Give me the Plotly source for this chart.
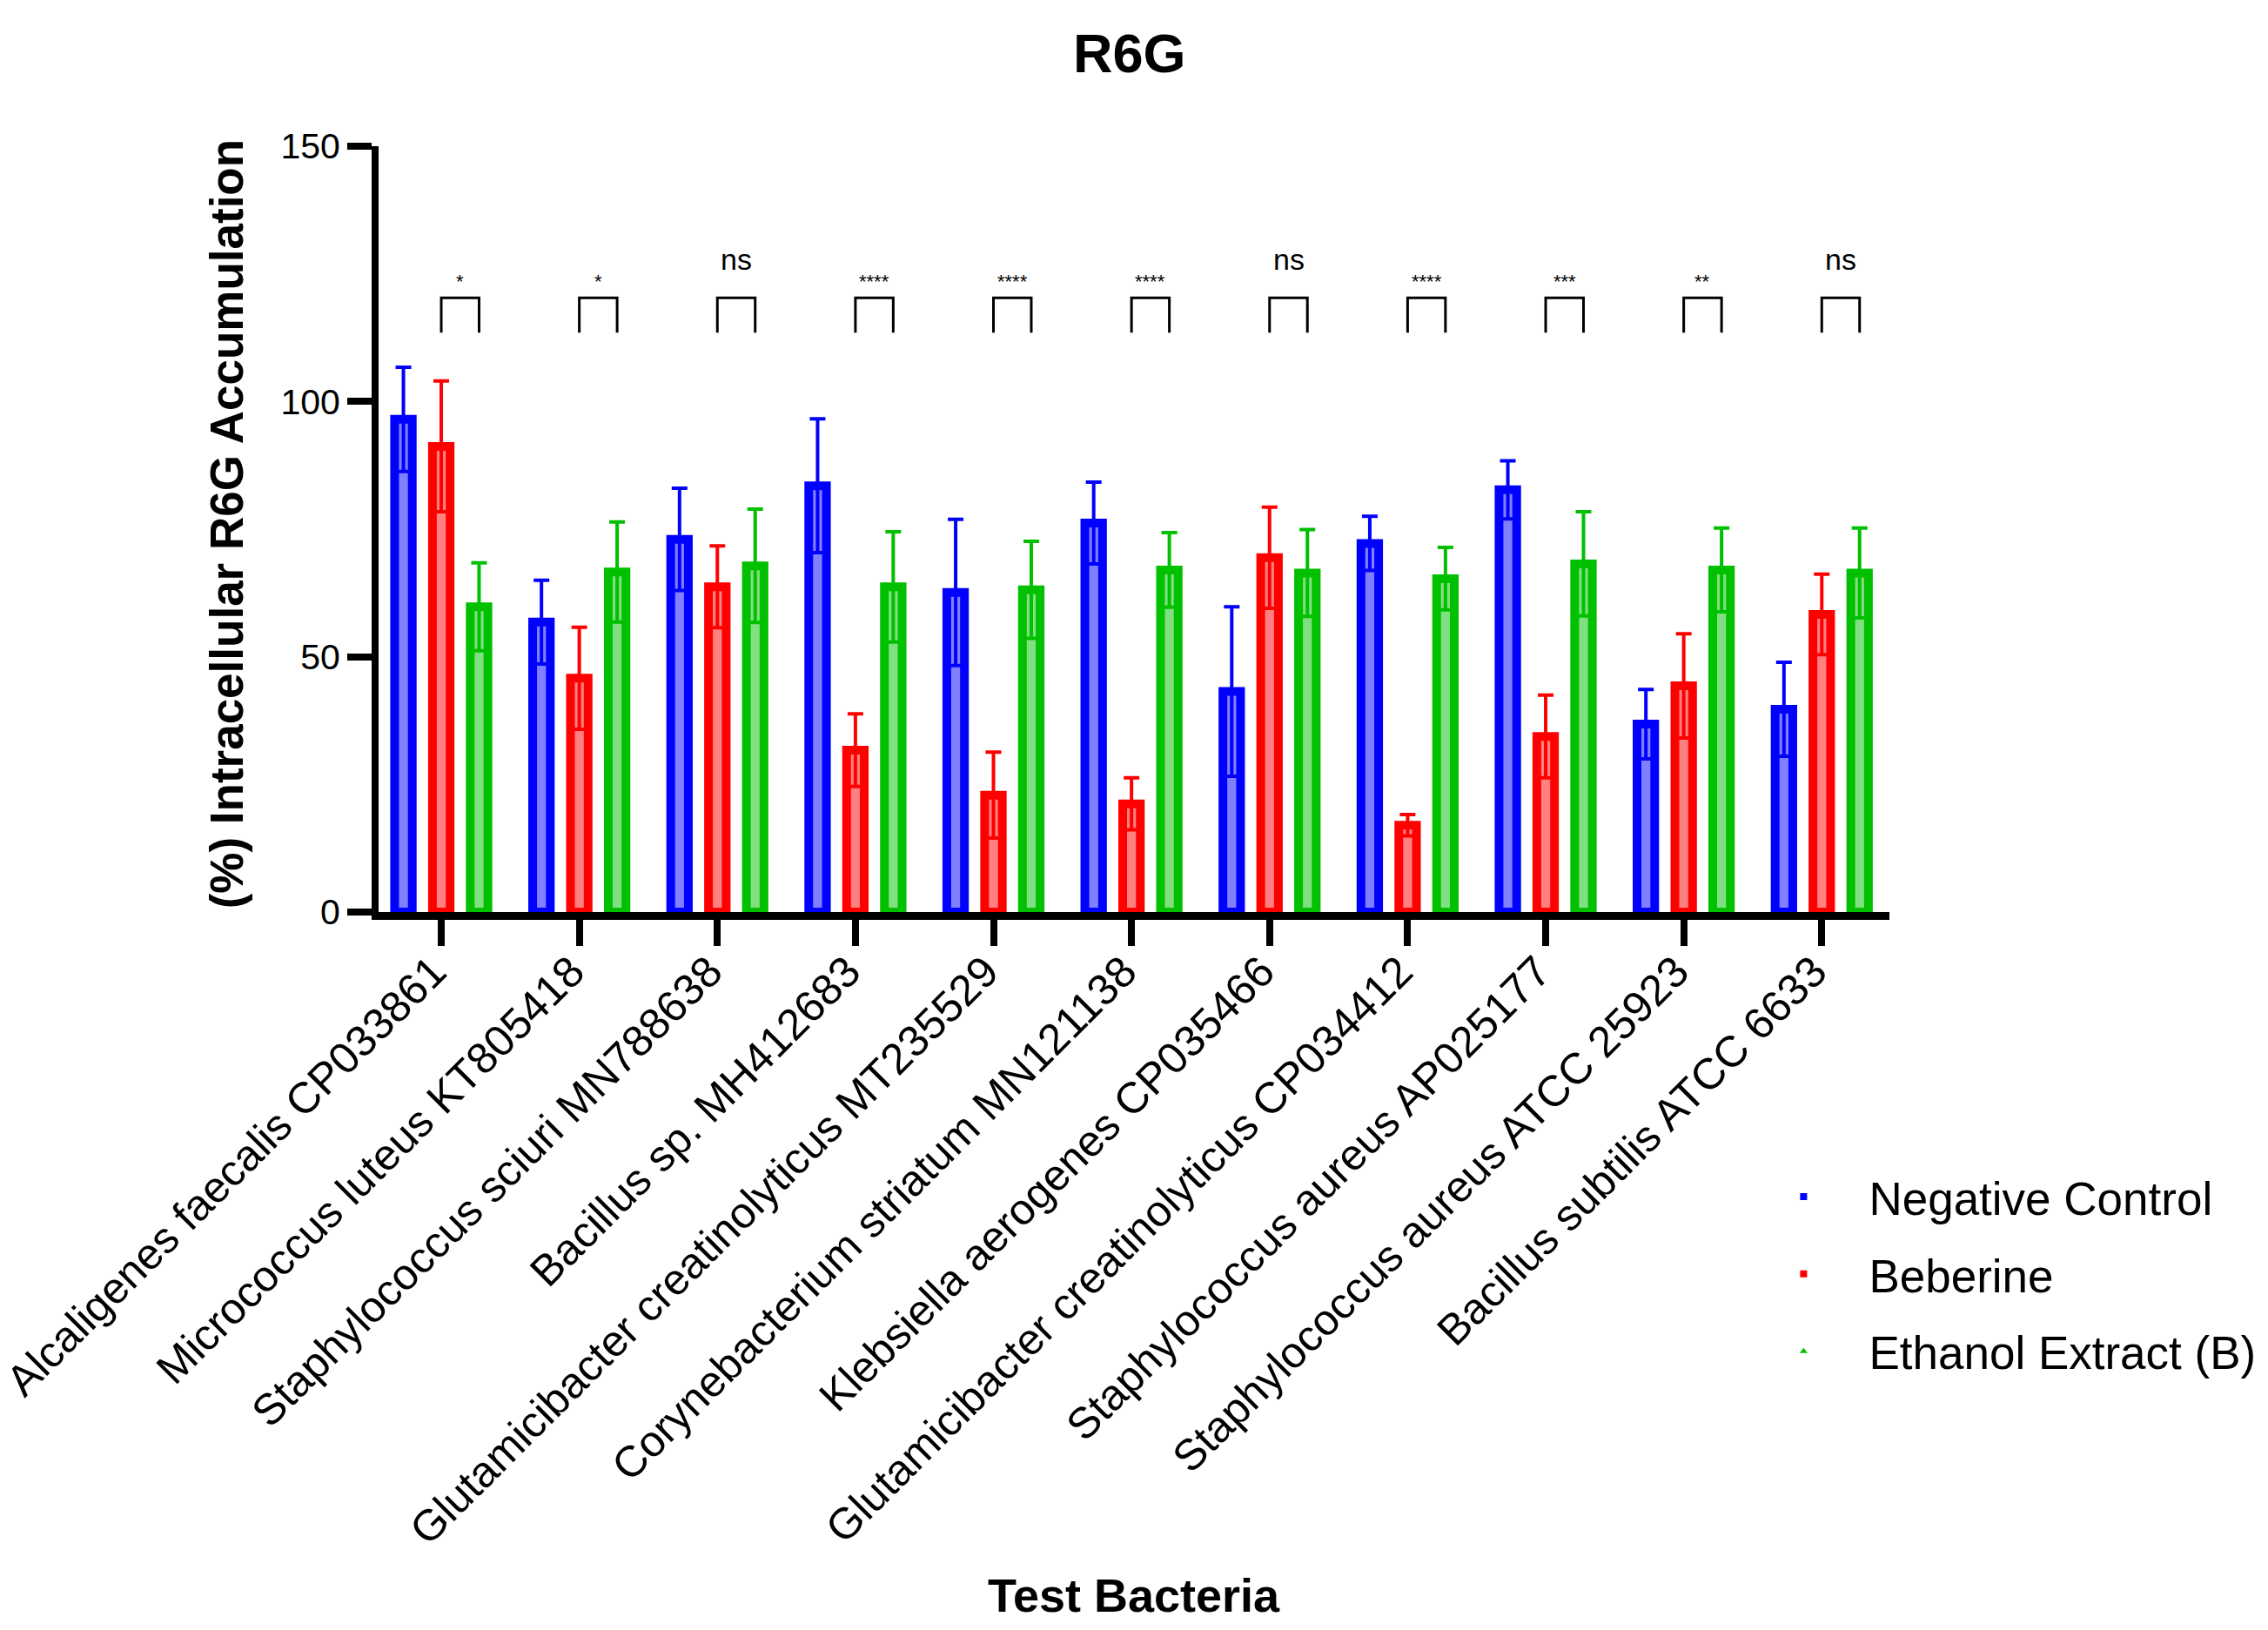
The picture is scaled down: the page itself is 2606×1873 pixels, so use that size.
import plotly.graph_objects as go

title_text = "R6G"
categories = [
    "Alcaligenes faecalis CP033861",
    "Micrococcus luteus KT805418",
    "Staphylococcus sciuri MN788638",
    "Bacillus sp. MH412683",
    "Glutamicibacter creatinolyticus MT235529",
    "Corynebacterium striatum MN121138",
    "Klebsiella aerogenes CP035466",
    "Glutamicibacter creatinolyticus CP034412",
    "Staphylococcus aureus AP025177",
    "Staphylococcus aureus ATCC 25923",
    "Bacillus subtilis ATCC 6633",
]
series_names = ["Negative Control", "Beberine", "Ethanol Extract (B)"]

neg_control = [96.5, 56.8, 73.0, 83.5, 62.6, 76.2, 43.2, 72.2, 82.7, 36.8, 39.7]
neg_control_err = [10.2, 8.2, 10.0, 13.1, 14.3, 8.0, 16.6, 5.3, 5.7, 6.8, 9.2]

beberine = [91.2, 45.8, 63.7, 31.7, 22.9, 21.2, 69.4, 17.0, 34.4, 44.3, 58.3]
beberine_err = [12.8, 10.0, 8.0, 7.1, 8.4, 5.1, 9.9, 2.1, 8.1, 10.2, 7.9]

ethanol_b = [59.8, 66.6, 67.8, 63.7, 63.1, 67.0, 66.4, 65.3, 68.2, 67.0, 66.4]
ethanol_b_err = [8.6, 9.8, 11.1, 10.8, 9.5, 7.3, 8.5, 6.1, 10.2, 8.2, 8.8]

significance = ["*", "*", "ns", "****", "****", "****", "ns", "****", "***", "**", "ns"]

y_ticks = [0, 50, 100, 150]
x_title = "Test Bacteria"
y_title = "(%) Intracellular R6G Accumulation"

FONT = "Liberation Sans, Arial, sans-serif"
solid = ["#0000FF", "#FF0000", "#00C000"]
light = ["#8080FF", "#FF8080", "#80DF80"]
legend_symbols = ["square", "square", "triangle-up"]

x_idx = list(range(len(categories)))
values = [neg_control, beberine, ethanol_b]
errors = [neg_control_err, beberine_err, ethanol_b_err]

fig = go.Figure()
for k in range(3):
    fig.add_trace(go.Bar(
        x=x_idx, y=values[k], name=series_names[k],
        marker=dict(color=light[k], line=dict(color=solid[k], width=10)),
        error_y=dict(type="data", array=errors[k], visible=True,
                     color=solid[k], thickness=4, width=9),
        showlegend=False,
    ))
for k in range(3):
    fig.add_trace(go.Scatter(
        x=[None], y=[None], mode="markers", name=series_names[k],
        marker=dict(color=solid[k], symbol=legend_symbols[k], size=8),
        legendgroup=f"g{k}", showlegend=True,
    ))

slot = (1 - 0.178) / 3
bracket_low, bracket_top = 113.5, 120.3
for i, lab in enumerate(significance):
    x0 = i
    x1 = i + slot
    fig.add_shape(type="path",
                  path=f"M {x0},{bracket_low} L {x0},{bracket_top} L {x1},{bracket_top} L {x1},{bracket_low}",
                  line=dict(color="black", width=3), xref="x", yref="y")
    if lab == "ns":
        fig.add_annotation(x=(x0 + x1) / 2, y=bracket_top + 7.5, text=lab, showarrow=False,
                           font=dict(family=FONT, size=34, color="black"), yanchor="middle")
    else:
        fig.add_annotation(x=(x0 + x1) / 2, y=bracket_top + 3.2, text=lab, showarrow=False,
                           font=dict(family=FONT, size=22, color="black"), yanchor="middle")

fig.add_annotation(x=0.497, y=1.1216, xref="paper", yref="paper", text=f"<b>{title_text}</b>",
                   showarrow=False, font=dict(family=FONT, size=63, color="black"), yanchor="middle")
fig.add_annotation(x=0.500, y=-0.892, xref="paper", yref="paper", text=f"<b>{x_title}</b>",
                   showarrow=False, font=dict(family=FONT, size=54, color="black"), yanchor="middle")
fig.add_annotation(x=-0.1005, y=0.507, xref="paper", yref="paper", text=f"<b>{y_title}</b>",
                   textangle=-90, showarrow=False, font=dict(family=FONT, size=53, color="black"),
                   xanchor="center", yanchor="middle")

fig.update_layout(
    width=2606, height=1873,
    margin=dict(l=427, r=443, t=160, b=833, autoexpand=False),
    paper_bgcolor="white", plot_bgcolor="white",
    barmode="group", bargap=0.178, bargroupgap=0.533,
    font=dict(family=FONT, color="black"),
    legend=dict(x=0.90, y=-0.325, xanchor="left", yanchor="top",
                font=dict(family=FONT, size=53, color="black"),
                itemwidth=140, tracegroupgap=17, traceorder="grouped",
                bgcolor="rgba(0,0,0,0)"),
)
fig.update_xaxes(
    range=[-0.454, 10.49], tickmode="array", tickvals=x_idx, ticktext=categories,
    tickangle=-45, ticks="outside", ticklen=30, tickwidth=8, tickcolor="black",
    showline=True, linewidth=9, linecolor="black", showgrid=False, zeroline=False,
    tickfont=dict(family=FONT, size=50, color="black"),
    ticklabelstandoff=-20, ticklabelshift=-9, ticklabeloverflow="allow",
)
fig.update_yaxes(
    range=[0, 150], tickmode="array", tickvals=y_ticks,
    ticks="outside", ticklen=28, tickwidth=8, tickcolor="black",
    showline=True, linewidth=8, linecolor="black", showgrid=False, zeroline=False,
    tickfont=dict(family=FONT, size=41, color="black"),
)

fig.write_html("out.html")
